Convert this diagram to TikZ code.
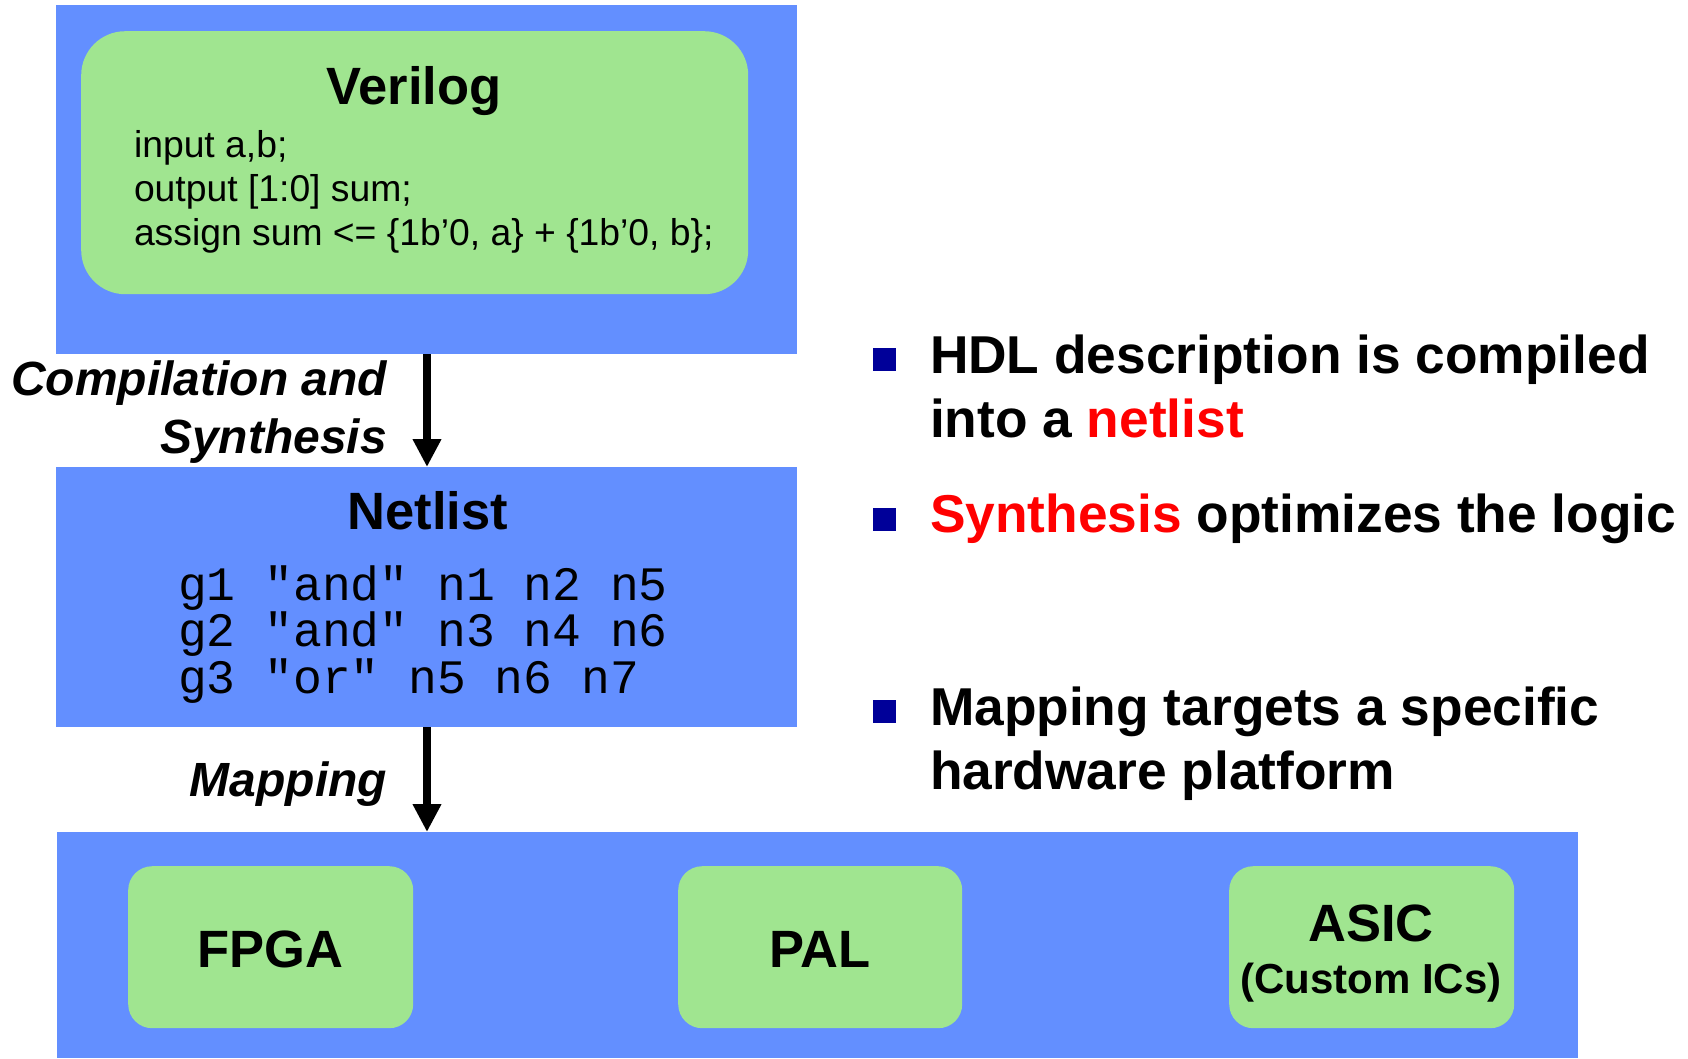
\documentclass[tikz,border=0pt]{standalone}
\usepackage{fontspec}
\setmainfont{Liberation Sans}
\newfontfamily\courfont{Liberation Mono}
\usetikzlibrary{arrows.meta}
\definecolor{boxblue}{RGB}{99,143,255}
\definecolor{boxgreen}{RGB}{160,229,144}
\definecolor{bulletblue}{RGB}{0,0,153}
\definecolor{hlred}{RGB}{255,0,0}
\tikzset{
  bluebox/.style={fill=boxblue, draw=none, inner sep=0pt, anchor=north west},
  greenbox/.style={fill=boxgreen, draw=none, inner sep=0pt, anchor=north west},
  txt/.style={inner sep=0pt, outer sep=0pt},
  title/.style={txt, font=\fontsize{52.5pt}{60pt}\selectfont\bfseries},
  codetxt/.style={txt, font=\fontsize{37.3pt}{44pt}\selectfont, anchor=base west},
  nettxt/.style={txt, font=\fontsize{48pt}{47pt}\selectfont\courfont, anchor=base west},
  steplabel/.style={txt, font=\fontsize{48pt}{56pt}\selectfont\bfseries\itshape, anchor=base east},
  bullettxt/.style={txt, font=\fontsize{53.3pt}{64pt}\selectfont\bfseries, anchor=base west},
  bulletsq/.style={fill=bulletblue, draw=none, inner sep=0pt, minimum width=23pt, minimum height=23pt, anchor=north west},
  flowarrow/.style={line width=8pt, -{Triangle[width=27pt,length=28pt]}}
}
\begin{document}
\begin{tikzpicture}[x=1pt,y=-1pt]
\useasboundingbox (0,0) rectangle (1688,1058);
% top box
\node[bluebox, minimum width=741pt, minimum height=349pt] (top) at (56,5) {};
\node[greenbox, rounded corners=44pt, minimum width=667pt, minimum height=263pt] (vbox) at (81,31) {};
\node[title, anchor=base] (vtitle) at (414,104) {Verilog};
\node[codetxt] (c1) at (134,157) {input a,b;};
\node[codetxt] (c2) at (134,201) {output [1:0] sum;};
\node[codetxt] (c3) at (134,245) {assign sum <= \{1b’0, a\} + \{1b’0, b\};};
% netlist box
\node[bluebox, minimum width=741pt, minimum height=260pt] (net) at (56,467) {};
\node[title, anchor=base] (ntitle) at (428,529) {Netlist};
\node[nettxt] (n1) at (178,600) {g1 "and" n1 n2 n5};
\node[nettxt] (n2) at (178,646) {g2 "and" n3 n4 n6};
\node[nettxt] (n3) at (178,693) {g3 "or" n5 n6 n7};
% bottom box
\node[bluebox, minimum width=1521pt, minimum height=226pt] (bot) at (57,832) {};
\node[greenbox, rounded corners=24pt, minimum width=285pt, minimum height=162pt] (fpga) at (128,866) {};
\node[greenbox, rounded corners=24pt, minimum width=284pt, minimum height=162pt] (pal) at (678,866) {};
\node[greenbox, rounded corners=24pt, minimum width=285pt, minimum height=162pt] (asic) at (1229,866) {};
\node[title, anchor=base] (tfpga) at (270,967) {FPGA};
\node[title, anchor=base] (tpal) at (820,967) {PAL};
\node[title, anchor=base] (tasic) at (1371,941) {ASIC};
\node[txt, anchor=base, font=\fontsize{42pt}{48pt}\selectfont\bfseries] (tcustom) at (1371,993) {(Custom ICs)};
% arrows
\coordinate (ax) at (427,0);
\draw[flowarrow] (top.south -| ax) -- (net.north -| ax);
\draw[flowarrow] (net.south -| ax) -- (bot.north -| ax);
\node[steplabel] (l1) at (387,395) {Compilation and};
\node[steplabel] (l2) at (387,453) {Synthesis};
\node[steplabel] (l3) at (387,796) {Mapping};
% bullets
\node[bulletsq] (b1) at (873,348) {};
\node[bulletsq] (b2) at (873,508) {};
\node[bulletsq] (b3) at (873,700) {};
\node[bullettxt] (t1a) at (930,373) {HDL description is compiled};
\node[bullettxt] (t1b) at (930,437) {into a \textcolor{hlred}{netlist}};
\node[bullettxt] (t2) at (930,532) {\textcolor{hlred}{Synthesis} optimizes the logic};
\node[bullettxt] (t3a) at (930,725) {Mapping targets a specific};
\node[bullettxt] (t3b) at (930,789) {hardware platform};
\end{tikzpicture}
\end{document}
